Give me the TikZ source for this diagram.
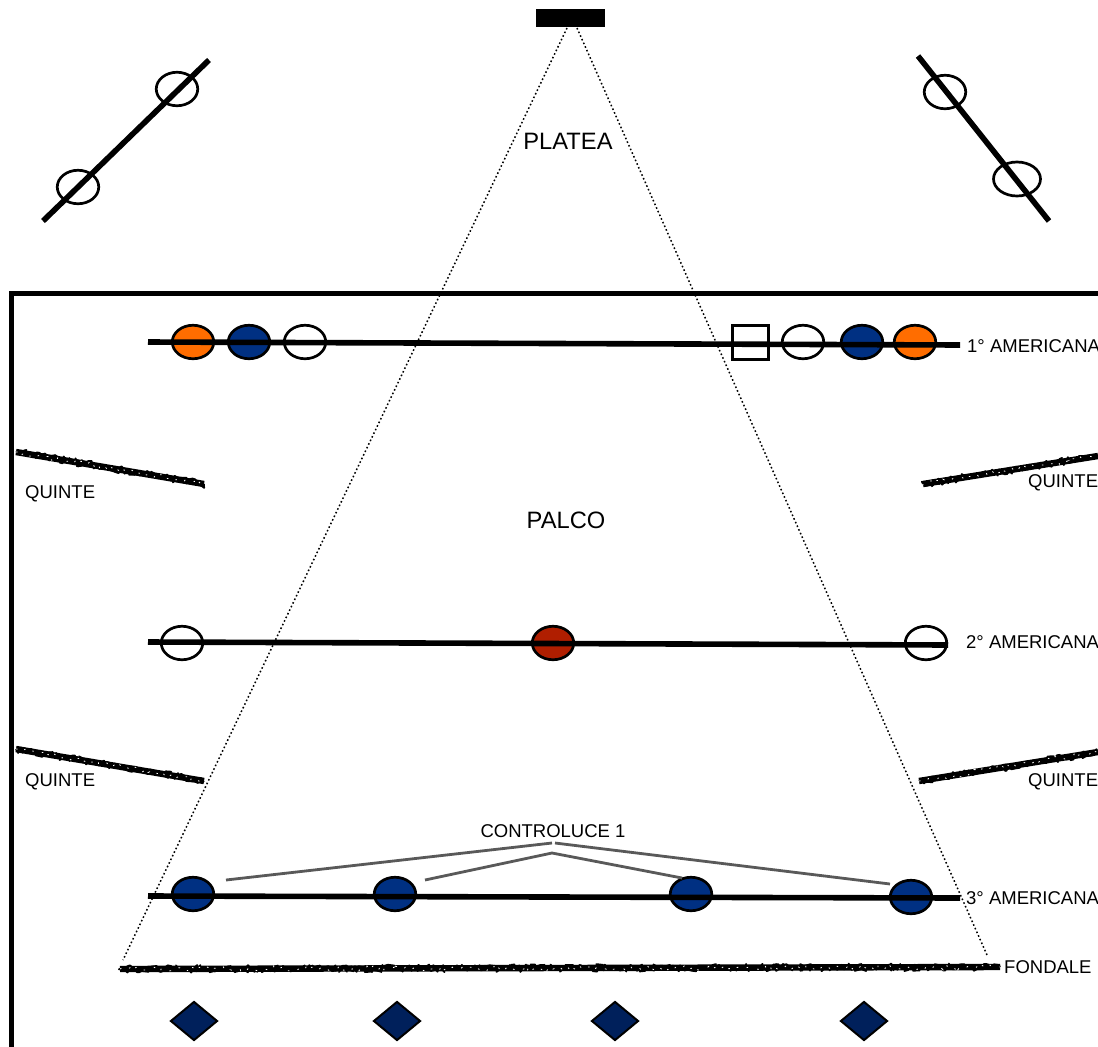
\documentclass[tikz,border=0pt]{standalone}
\usepackage{fontspec}
\setmainfont{Liberation Sans}
\usetikzlibrary{shapes.geometric,decorations.pathmorphing}
\definecolor{lblue}{HTML}{003082}
\definecolor{lorange}{HTML}{FF6D00}
\definecolor{lred}{HTML}{B01E00}
\definecolor{dnavy}{HTML}{00205B}
\definecolor{cgray}{HTML}{595959}
\tikzset{
  lamp/.style={ellipse,draw=black,line width=2.7pt,minimum width=41.5pt,minimum height=33.5pt,inner sep=0pt,fill=#1},
  lamp/.default=white,
  openlamp/.style={ellipse,draw=black,line width=2.7pt,minimum width=41.5pt,minimum height=33.5pt,inner sep=0pt},
  foot/.style={diamond,draw=black,line width=2pt,fill=dnavy,minimum width=47pt,minimum height=39pt,inner sep=0pt},
  boxlamp/.style={rectangle,draw=black,line width=2.7pt,minimum width=36pt,minimum height=34pt,inner sep=0pt},
  bar/.style={line width=5.6pt},
  sight/.style={line width=1.5pt,dash pattern=on 1.6pt off 2.4pt},
  ctrl/.style={cgray,line width=2.8pt},
  roughbase/.style={line width=6.4pt},
  rough/.style={line width=1.8pt,line join=round,decorate,decoration={random steps,segment length=1.8pt,amplitude=3.8pt}},
  roughfine/.style={white,line width=.8pt,dash pattern=on 1.5pt off 10pt,decorate,decoration={random steps,segment length=2pt,amplitude=2.4pt}},
  big/.style={font=\fontsize{23.7}{28}\selectfont,inner sep=0pt},
  small/.style={font=\fontsize{18.5}{22}\selectfont,inner sep=0pt}
}
\begin{document}
\begin{tikzpicture}[x=1pt,y=-1pt]
\useasboundingbox (0,0) rectangle (1098,1047);
\pgfmathsetseed{7}
% frame and projector
\draw[line width=5pt] (1098,293) -- (11,293) -- (11,1047);
\node[rectangle,fill=black,minimum width=69pt,minimum height=18pt,inner sep=0pt] (proj) at (570.5,18) {};
% sight lines
\coordinate (sa) at (567,28); \coordinate (sb) at (123,960);
\coordinate (sc) at (577,28); \coordinate (sd) at (987,955);
\draw[sight] (sa) -- (sb);
\draw[sight] (sc) -- (sd);
% FOH lamps
\node[openlamp] (fl1) at (177,89) {};
\node[openlamp] (fl2) at (78,187) {};
\node[openlamp] (fr1) at (945,92) {};
\node[openlamp,minimum width=47pt,minimum height=34pt] (fr2) at (1017,179) {};
\coordinate (fla) at (43,221); \coordinate (flb) at (209,60);
\coordinate (fra) at (918,56); \coordinate (frb) at (1049,221);
\draw[bar] (fla) -- (flb);
\draw[bar] (fra) -- (frb);
% 1st
\node[lamp=lorange] (a1) at (193,342) {};
\node[lamp=lblue] (a2) at (249,342) {};
\node[lamp] (a3) at (305,342) {};
\node[boxlamp] (a4) at (750.5,342.5) {};
\node[lamp] (a5) at (803,342) {};
\node[lamp=lblue] (a6) at (862,342) {};
\node[lamp=lorange] (a7) at (915,342) {};
\coordinate (ba1) at (148,342); \coordinate (ba2) at (960,345);
\draw[bar] (ba1) -- (ba2);
% 2nd
\node[lamp] (b1) at (182,643) {};
\node[lamp=lred] (b2) at (553,643) {};
\node[lamp] (b3) at (926,643) {};
\coordinate (bb1) at (148,642); \coordinate (bb2) at (948,645);
\draw[bar] (bb1) -- (bb2);
% 3rd
\node[lamp=lblue] (c1) at (193,894) {};
\node[lamp=lblue] (c2) at (395,894) {};
\node[lamp=lblue] (c3) at (691,894) {};
\node[lamp=lblue] (c4) at (911,897) {};
\coordinate (bc1) at (148,896); \coordinate (bc2) at (960,898);
\draw[bar] (bc1) -- (bc2);
% controluce connectors
\coordinate (ct1) at (552,843); \coordinate (ct2) at (555,843); \coordinate (ct3) at (552,853);
\coordinate (e1) at (226,880); \coordinate (e4) at (890,884);
\coordinate (e2) at (425,880); \coordinate (e3) at (682,878);
\draw[ctrl] (e1) -- (ct1);
\draw[ctrl] (ct2) -- (e4);
\draw[ctrl] (e2) -- (ct3) -- (e3);
% curtains
\coordinate (q1a) at (16,452); \coordinate (q1b) at (204,484);
\coordinate (q2a) at (16,749); \coordinate (q2b) at (204,781);
\coordinate (q3a) at (923,484); \coordinate (q3b) at (1098,456);
\coordinate (q4a) at (919,781); \coordinate (q4b) at (1098,752);
\coordinate (fo1) at (120,969); \coordinate (fo2) at (1000,967);
\foreach \p/\q in {q1a/q1b,q2a/q2b,q3a/q3b,q4a/q4b,fo1/fo2}{
  \draw[roughbase] (\p) -- (\q);
  \draw[rough] (\p) -- (\q);
  \draw[roughfine] (\p) -- (\q);
}
% footlights
\node[foot] (d1) at (194,1021) {};
\node[foot] (d2) at (397,1021) {};
\node[foot] (d3) at (615,1021) {};
\node[foot] (d4) at (864,1021) {};
% labels
\node[big] (platea) at (568,141) {PLATEA};
\node[big] (palco) at (566,520) {PALCO};
\node[small,anchor=west] (l1) at (967,346) {1° AMERICANA};
\node[small,anchor=west] (l2) at (966,642) {2° AMERICANA};
\node[small,anchor=west] (l3) at (966,898) {3° AMERICANA};
\node[small,anchor=west] (l4) at (1004,967) {FONDALE};
\node[small,anchor=west] (q1) at (25,494) {QUINTE};
\node[small,anchor=west] (q2) at (25,782) {QUINTE};
\node[small,anchor=west] (q3) at (1028,483) {QUINTE};
\node[small,anchor=west] (q4) at (1028,782) {QUINTE};
\node[small] (ct) at (553,831) {CONTROLUCE 1};
\end{tikzpicture}
\end{document}
